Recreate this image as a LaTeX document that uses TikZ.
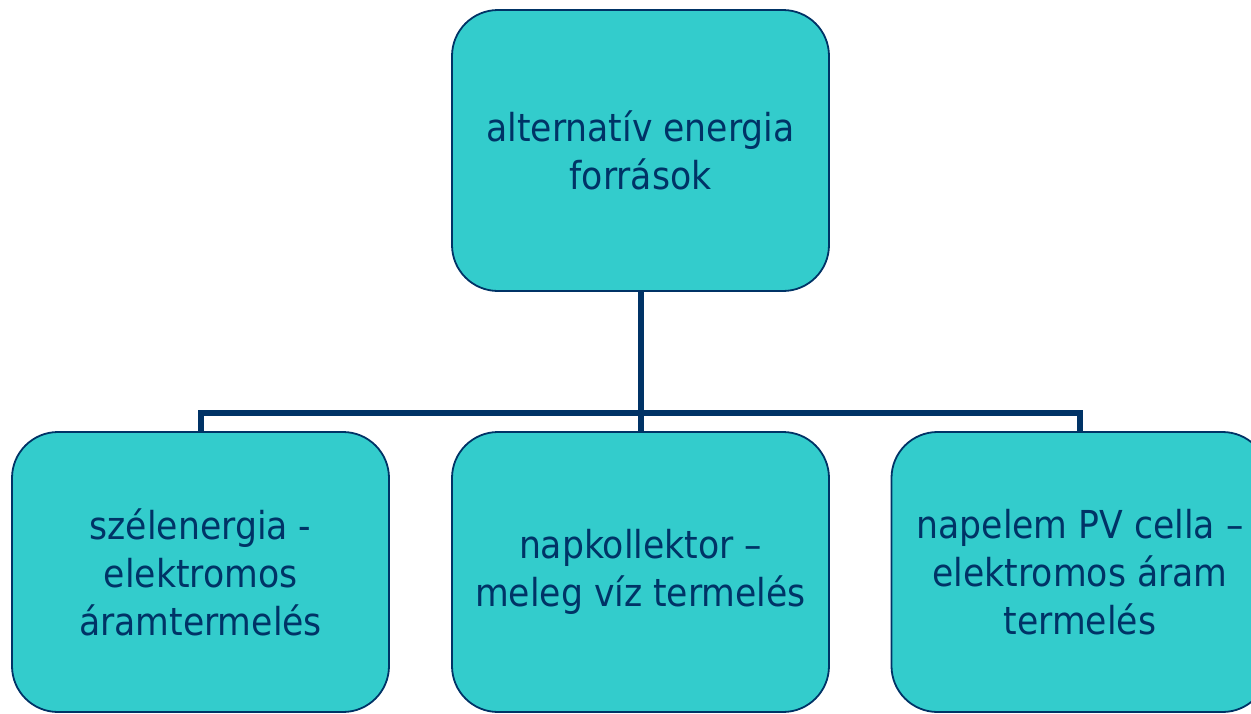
\documentclass[tikz,border=0pt]{standalone}
\usepackage{fontspec}
\setmainfont{DejaVu Sans Condensed}
\definecolor{navy}{RGB}{0,51,102}
\definecolor{tealfill}{RGB}{51,204,204}
\begin{document}
\begin{tikzpicture}[x=1pt,y=-1pt,
  box/.style={draw=navy, line width=1.8pt, fill=tealfill, rounded corners=46pt,
    minimum width=377pt, minimum height=281pt, inner sep=0pt, align=center,
    text=navy, font=\fontsize{38.5}{48}\selectfont},
  lower/.style={minimum height=280pt, yshift=-5pt},
  conn/.style={draw=navy, line width=6pt}]
\useasboundingbox (0,0) rectangle (1251,713);
\node[box] (top) at (640.5,150.5) {alternatív energia\\ források};
\node[box, minimum height=280pt] (b1) at (200.5,572) {\raisebox{-5pt}{szélenergia -}\\ \raisebox{-5pt}{elektromos}\\ \raisebox{-5pt}{áramtermelés}};
\node[box, minimum height=280pt] (b2) at (640.5,572) {\raisebox{-6pt}{napkollektor –}\\ \raisebox{-6pt}{meleg víz termelés}};
\node[box, minimum height=280pt] (b3) at (1080,572) {\raisebox{-5pt}{napelem PV cella –}\\ \raisebox{-5pt}{elektromos áram}\\ \raisebox{-5pt}{termelés}};
\coordinate (j) at (640.5,413);
\draw[conn] (top.south) -- (j);
\draw[conn] (b1.north) |- (j) -| (b3.north);
\draw[conn] (j) -- (b2.north);
\end{tikzpicture}
\end{document}
